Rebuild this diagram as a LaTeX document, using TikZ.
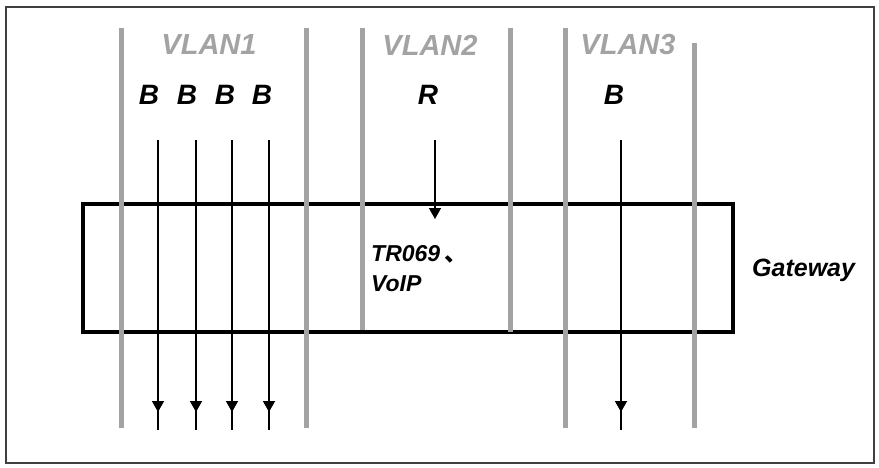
\documentclass[tikz,border=0pt]{standalone}
\usepackage{fontspec}
\setmainfont{Liberation Sans}
\newfontfamily\cjkfont{Noto Sans CJK SC}
\usetikzlibrary{arrows.meta}
\definecolor{vlangray}{HTML}{A3A3A3}
\definecolor{framegray}{HTML}{404040}

\tikzset{
  vlanline/.style={line width=5pt, draw=vlangray},
  flowline/.style={line width=1.5pt},
  flow/.style={line width=1.5pt, -{Triangle[width=12pt,length=11pt]}},
  letter/.style={font=\fontsize{28}{30}\selectfont\bfseries\itshape, inner sep=0pt},
  vlanlabel/.style={font=\fontsize{29}{32}\selectfont\bfseries\itshape, text=vlangray, inner sep=0pt},
  boxtext/.style={font=\fontsize{23}{30}\selectfont\bfseries\itshape, inner sep=0pt, align=left}
}

\begin{document}
\begin{tikzpicture}[x=1pt,y=-1pt]
    \useasboundingbox (0,0) rectangle (879,467);

    % Outer frame
    \draw[line width=1.5pt, draw=framegray] (6,7) rectangle (874,463);

    % Gateway box
    \node[draw, line width=4pt, minimum width=650pt, minimum height=128pt, inner sep=0pt] (gw) at (408,268) {};

    % VLAN boundaries
    \foreach \x/\ytop/\ybot in {121/28/428, 306/28/428, 362/28/330, 510/28/332, 565/28/428, 694/43/428}
        \draw[vlanline] (\x,\ytop) -- (\x,\ybot);

    % VLAN names
    \node[vlanlabel] (vlan1) at (209,45) {VLAN1};
    \node[vlanlabel] (vlan2) at (430,45) {VLAN2};
    \node[vlanlabel] (vlan3) at (628,45) {VLAN3};

    % Traffic types
    \foreach \i/\x in {1/149, 2/187, 3/225, 4/262}
        \node[letter] (b\i) at (\x,95) {B};
    \node[letter] (r) at (428,95) {R};
    \node[letter] (b5) at (614,95) {B};

    % Flows through VLAN1
    \foreach \i/\x in {1/158, 2/196, 3/232, 4/269} {
        \coordinate (s\i) at (\x,140);
        \coordinate (t\i) at (\x,412);
        \coordinate (e\i) at (\x,430);
        \draw[flowline] (s\i) -- (e\i);
        \draw[flow] (s\i) -- (t\i);
    }

    % Flow into the gateway (VLAN2)
    \coordinate (s6) at (435,140);
    \coordinate (t6) at (435,219);
    \draw[flow] (s6) -- (t6);

    % Flow through VLAN3
    \coordinate (s5) at (621,140);
    \coordinate (t5) at (621,412);
    \coordinate (e5) at (621,430);
    \draw[flowline] (s5) -- (e5);
    \draw[flow] (s5) -- (t5);

    % Labels
    \node[boxtext, anchor=north west] (svc) at (371,245) {TR069\hspace{4pt}{\cjkfont 、}\\VoIP};
    \node[boxtext, font=\fontsize{25}{30}\selectfont\bfseries\itshape, anchor=west] (gwlabel) at (752,270) {Gateway};
\end{tikzpicture}
\end{document}
